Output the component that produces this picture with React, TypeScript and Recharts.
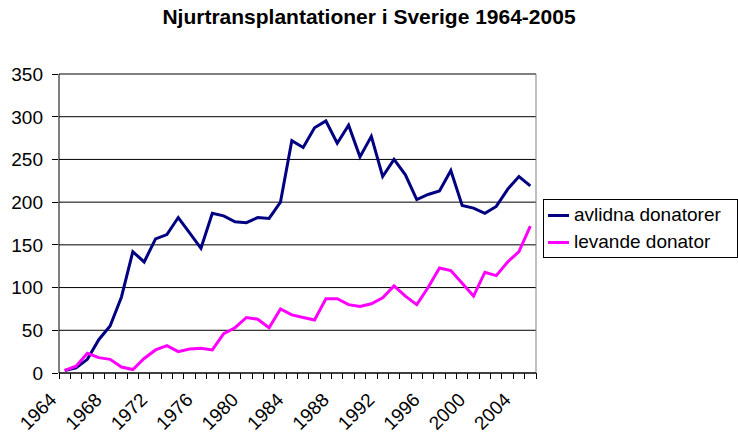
import { LineChart, Line, XAxis, YAxis, CartesianGrid, ReferenceLine } from "recharts";

const YEARS = Array.from({ length: 42 }, (_, i) => String(1964 + i));

const AVLIDNA = [
  3, 6, 16, 39, 55, 89, 142, 130, 157, 162,
  182, 164, 146, 187, 184, 177, 176, 182, 181, 200,
  272, 264, 287, 295, 269, 290, 253, 277, 230, 250,
  232, 203, 209, 213, 237, 196, 193, 187, 195, 215,
  230, 219,
];

const LEVANDE = [
  3, 8, 23, 18, 16, 7, 4, 17, 27, 32,
  25, 28, 29, 27, 46, 53, 65, 63, 53, 75,
  68, 65, 62, 87, 87, 80, 78, 81, 88, 102,
  90, 80, 100, 123, 120, 105, 90, 118, 114, 130,
  142, 172,
];

const Y_TICKS = [0, 50, 100, 150, 200, 250, 300, 350];
// tick marks sit between the years, like a category axis
const MARK_TICKS = Array.from({ length: 43 }, (_, i) => i - 0.5);
const LABEL_EVERY = 4;

const FONT = "'Liberation Sans', Arial, sans-serif";
const NAVY = "#000080";
const MAGENTA = "#FF00FF";
const TICK_LEN = 6;

const data = YEARS.map((y, i) => ({
  idx: i,
  year: y,
  avlidna: AVLIDNA[i],
  levande: LEVANDE[i],
}));

// tick mark, plus a year label under the year that follows it
function YearTick({ x, y, width, payload }: any) {
  const idx = payload.value + 0.5;
  const mark = (
    <line x1={x} x2={x} y1={y - TICK_LEN} y2={y} stroke="#000" strokeWidth={1} shapeRendering="crispEdges" />
  );
  if (idx >= YEARS.length || idx % LABEL_EVERY !== 0) return <g>{mark}</g>;
  const half = width / YEARS.length / 2;
  const tx = x + half - 7;
  const ty = y + 22;
  return (
    <g>
      {mark}
      <text
        x={tx}
        y={ty}
        transform={`rotate(-45, ${tx}, ${ty})`}
        textAnchor="end"
        fontSize={19}
        fontFamily={FONT}
        fill="#000"
      >
        {YEARS[idx]}
      </text>
    </g>
  );
}

function ValueTick({ x, y, payload }: any) {
  return (
    <g>
      <line x1={x + 9} x2={x + 9 + TICK_LEN} y1={y} y2={y} stroke="#000" strokeWidth={1} shapeRendering="crispEdges" />
      <text x={x} y={y} dy="0.36em" textAnchor="end" fontSize={19} fontFamily={FONT} fill="#000">
        {payload.value}
      </text>
    </g>
  );
}

export default function App() {
  return (
    <div style={{ position: "relative", width: 738, height: 436, fontFamily: FONT, background: "#fff" }}>
      <style>{`body{margin:0}`}</style>
      <div
        style={{
          position: "absolute",
          top: 5,
          left: 0,
          width: 738,
          textAlign: "center",
          fontWeight: "bold",
          fontSize: 21,
          color: "#000",
        }}
      >
        Njurtransplantationer i Sverige 1964-2005
      </div>
      <LineChart width={738} height={436} data={data} margin={{ top: 74, right: 202, bottom: 0, left: 9 }}>
        <CartesianGrid vertical={false} stroke="#000" strokeWidth={1} />
        <XAxis
          dataKey="idx"
          type="number"
          domain={[-0.5, 41.5]}
          ticks={MARK_TICKS}
          interval={0}
          tick={<YearTick />}
          tickSize={TICK_LEN}
          tickMargin={0}
          height={63}
          axisLine={{ stroke: "#000" }}
          tickLine={false}
        />
        <YAxis
          domain={[0, 350]}
          ticks={Y_TICKS}
          interval={0}
          width={50}
          tickSize={7}
          tickMargin={9}
          axisLine={{ stroke: "#000" }}
          tickLine={false}
          tick={<ValueTick />}
        />
        <ReferenceLine y={350} stroke="#808080" />
        <ReferenceLine x={41.5} stroke="#808080" />
        <Line
          dataKey="avlidna"
          stroke={NAVY}
          strokeWidth={3}
          dot={false}
          isAnimationActive={false}
        />
        <Line
          dataKey="levande"
          stroke={MAGENTA}
          strokeWidth={3}
          dot={false}
          isAnimationActive={false}
        />
      </LineChart>
      <div
        style={{
          position: "absolute",
          left: 543,
          top: 199,
          width: 193,
          height: 57,
          border: "1px solid #000",
          fontSize: 19,
          color: "#000",
        }}
      >
        {[
          { name: "avlidna donatorer", color: NAVY },
          { name: "levande donator", color: MAGENTA },
        ].map((item, i) => (
          <div
            key={item.name}
            style={{ position: "absolute", left: 4, top: 4 + i * 27, height: 22, display: "flex", alignItems: "center" }}
          >
            <span style={{ display: "inline-block", width: 21, height: 3, background: item.color, marginRight: 5 }} />
            <span style={{ whiteSpace: "nowrap" }}>{item.name}</span>
          </div>
        ))}
      </div>
    </div>
  );
}
